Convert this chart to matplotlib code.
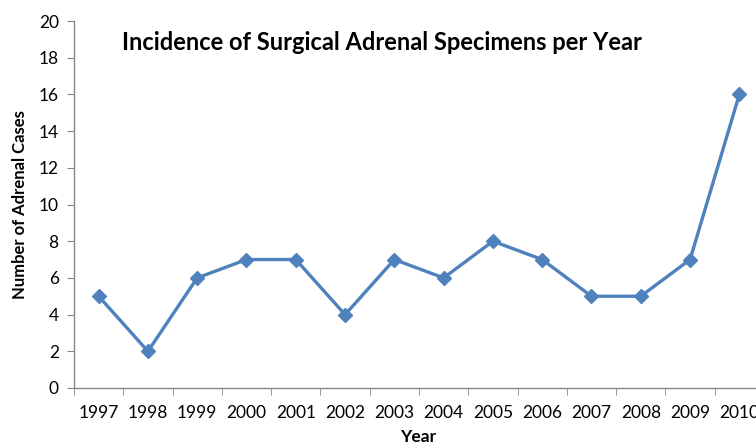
import matplotlib.pyplot as plt
import numpy as np

years = ['1997', '1998', '1999', '2000', '2001', '2002', '2003',
         '2004', '2005', '2006', '2007', '2008', '2009', '2010']
cases = [5, 2, 6, 7, 7, 4, 7, 6, 8, 7, 5, 5, 7, 16]

plt.rcParams['font.family'] = ['Lato', 'DejaVu Sans']

fig = plt.figure(figsize=(7.56, 4.46), dpi=100)
# the plot area runs past the right edge, as in the reference (2010 is clipped)
ax = fig.add_axes([74 / 756, 58 / 446, 690 / 756, 367 / 446])

x = np.arange(len(years))
ax.plot(x, cases, color='#4F81BD', linewidth=2.4, marker='D', markersize=7.5)

ax.set_xlim(-0.5, len(years) - 0.5)
ax.set_ylim(0, 20)
ax.set_yticks(range(0, 21, 2))
ax.set_xticks(x)
ax.set_xticklabels(years)
ax.set_xticks(np.arange(-0.5, len(years), 1), minor=True)

for s in ['top', 'right']:
    ax.spines[s].set_visible(False)
for s in ['left', 'bottom']:
    ax.spines[s].set_color('#868686')
    ax.spines[s].set_linewidth(1)

ax.tick_params(axis='y', length=5, color='#868686', labelsize=12.5, pad=6)
ax.tick_params(axis='x', which='major', length=0, labelsize=12.5, pad=12)
ax.tick_params(axis='x', which='minor', length=5, color='#868686')

ax.set_ylabel('Number of Adrenal Cases', fontsize=12, fontweight='bold')
ax.yaxis.set_label_coords(-0.067, 0.5)
fig.text(418 / 756, 1 - 437 / 446, 'Year', fontsize=12.5, fontweight='bold',
         ha='center', va='center')
fig.text(382 / 756, 1 - 43 / 446, 'Incidence of Surgical Adrenal Specimens per Year',
         fontsize=17, fontweight='bold', ha='center', va='center')

fig.savefig('out.png', dpi=100)
